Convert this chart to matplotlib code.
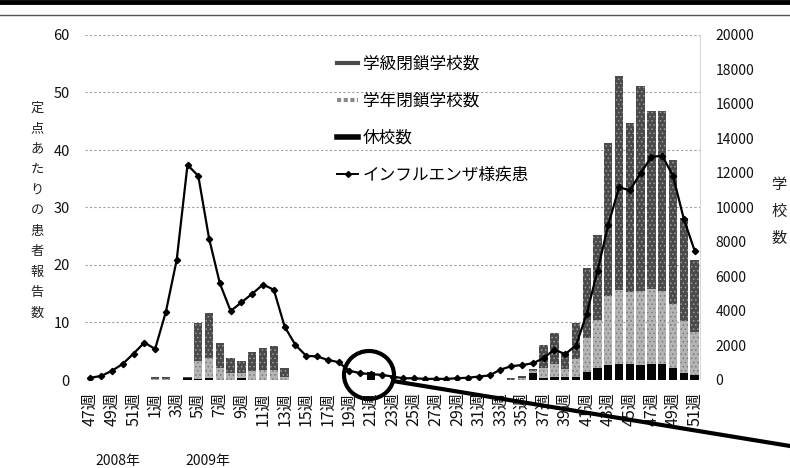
import matplotlib
matplotlib.use('Agg')
import matplotlib.pyplot as plt
from matplotlib.lines import Line2D
from matplotlib.patches import Ellipse

plt.rcParams['font.family'] = ['Noto Sans CJK JP', 'DejaVu Sans']
plt.rcParams['hatch.linewidth'] = 0.6

# ---- data -------------------------------------------------------------
weeks = [47, 48, 49, 50, 51, 52] + list(range(1, 52))   # 2008 wk47 .. 2009 wk51

# インフルエンザ様疾患 (定点あたり報告数, left axis)
flu = [0.4, 0.7, 1.6, 2.8, 4.6, 6.5, 5.4, 11.9, 20.9, 37.4,
       35.5, 24.6, 16.8, 12.0, 13.5, 15.0, 16.6, 15.7, 9.3, 6.1,
       4.2, 4.1, 3.5, 3.1, 1.6, 1.2, 1.0, 0.9, 0.6, 0.3,
       0.3, 0.2, 0.2, 0.2, 0.3, 0.4, 0.6, 0.8, 1.8, 2.4,
       2.6, 2.9, 3.8, 5.3, 4.5, 6.0, 11.5, 19.0, 27.0, 33.5,
       33.0, 36.0, 38.8, 39.0, 35.5, 28.0, 22.5]

# 学級閉鎖学校数 (right axis)
gakkyu = [0, 0, 0, 0, 0, 0, 100, 150, 0, 50,
          2220, 2600, 1430, 900, 700, 1100, 1250, 1350, 500, 0,
          0, 0, 0, 0, 0, 0, 0, 0, 0, 0,
          0, 0, 0, 0, 0, 0, 0, 0, 0, 120,
          150, 150, 1330, 1800, 950, 2090, 4050, 4920, 8880, 12420,
          9810, 11860, 10340, 10440, 8360, 5970, 4170]

# 学年閉鎖学校数
gakunen = [0, 0, 0, 0, 0, 0, 50, 50, 0, 0,
           1000, 1200, 700, 400, 300, 500, 600, 600, 200, 0,
           0, 0, 0, 0, 0, 0, 0, 0, 0, 0,
           0, 0, 0, 0, 0, 0, 0, 0, 0, 0,
           100, 100, 600, 800, 500, 1000, 2000, 2800, 4000, 4300,
           4200, 4300, 4300, 4200, 3700, 3000, 2500]

# 休校数
kyuko = [0, 0, 0, 0, 0, 0, 0, 0, 0, 100,
         80, 100, 0, 0, 100, 0, 0, 0, 0, 0,
         0, 0, 0, 0, 0, 0, 470, 0, 0, 0,
         0, 0, 0, 0, 0, 0, 0, 0, 0, 0,
         0, 400, 100, 150, 150, 200, 450, 700, 870, 900,
         900, 880, 950, 950, 720, 420, 300]

left_ticks = [0, 10, 20, 30, 40, 50, 60]
right_ticks = [0, 2000, 4000, 6000, 8000, 10000, 12000, 14000, 16000, 18000, 20000]
year_labels = ['2008年', '2009年']

# ---- figure -----------------------------------------------------------
W, H = 790, 468
fig = plt.figure(figsize=(W / 100, H / 100), dpi=100)
fig.patch.set_facecolor('white')

ax = fig.add_axes([85 / W, 1 - 380 / H, 615 / W, 345 / H])
ax2 = ax.twinx()
ax.set_zorder(ax2.get_zorder() + 1)
ax.patch.set_visible(False)

x = list(range(len(weeks)))
c_gakkyu = '#4a4a4a'
c_gakunen = '#b4b4b4'
c_kyuko = '#050505'

bottom2 = kyuko
bottom3 = [a + b for a, b in zip(kyuko, gakunen)]
ax2.bar(x, kyuko, width=0.78, color=c_kyuko, linewidth=0, zorder=2)
ax2.bar(x, gakunen, width=0.78, bottom=bottom2, color=c_gakunen,
        edgecolor='#7a7a7a', hatch='....', linewidth=0, zorder=2)
ax2.bar(x, gakkyu, width=0.78, bottom=bottom3, color=c_gakkyu,
        edgecolor='#9a9a9a', hatch='....', linewidth=0, zorder=2)

# grid lines (aligned with left axis ticks)
for v in left_ticks[1:]:
    ax2.axhline(v * 20000 / 60, color='#a0a0a0', lw=0.8, ls=(0, (2, 2)), zorder=1)

ax.plot(x, flu, color='black', lw=1.6, marker='D', markersize=3.2, zorder=5)

ax.set_xlim(-0.5, len(weeks) - 0.5)
ax.set_ylim(0, 60)
ax2.set_ylim(0, 20000)
ax.set_yticks(left_ticks)
ax.set_yticklabels([str(v) for v in left_ticks], fontsize=10.5, color='#111111')
ax2.set_yticks(right_ticks)
ax2.set_yticklabels([str(v) for v in right_ticks], fontsize=10, color='#111111')

xt = x[::2]
ax.set_xticks(xt)
ax.set_xticklabels([f'{weeks[i]}週' for i in xt], rotation=90, fontsize=11.5,
                   color='#111111')
ax.tick_params(axis='x', length=0, pad=9)
ax.tick_params(axis='y', length=0, pad=11)
ax2.tick_params(axis='y', length=0, pad=11)

for a in (ax, ax2):
    for s in a.spines.values():
        s.set_visible(False)
ax2.spines['right'].set_visible(True)
ax2.spines['right'].set_color('#d0d0d0')
ax2.spines['right'].set_linewidth(0.6)

# legend
handles = [
    Line2D([], [], color=c_gakkyu, lw=3),
    Line2D([], [], color='#8a8a8a', lw=3, ls=(0, (1, 0.6))),
    Line2D([], [], color=c_kyuko, lw=4),
    Line2D([], [], color='black', lw=1.4, marker='D', markersize=3),
]
labels = ['学級閉鎖学校数', '学年閉鎖学校数', '休校数', 'インフルエンザ様疾患']
fig.legend(handles, labels, loc='upper left',
           bbox_to_anchor=(330 / W, 1 - 49 / H), frameon=False,
           fontsize=12, labelspacing=1.2, handlelength=1.3,
           handletextpad=0.25, borderaxespad=0)

# axis titles: stacked characters
ylab = '定点あたりの患者報告数'
for k, ch in enumerate(ylab):
    fig.text(37 / W, 1 - (108 + k * 20.5) / H, ch, ha='center', va='center',
             fontsize=9.5, color='#222222')
rlab = '学校数'
for k, ch in enumerate(rlab):
    fig.text(779 / W, 1 - (185 + k * 26.7) / H, ch, ha='center', va='center',
             fontsize=11, color='#222222')

fig.text(95 / W, 1 - 461 / H, year_labels[0], ha='left', va='center',
         fontsize=10, color='#111111')
fig.text(185 / W, 1 - 461 / H, year_labels[1], ha='left', va='center',
         fontsize=10, color='#111111')

# scan-like top border
fig.add_artist(Line2D([0, 1], [1 - 1.5 / H] * 2, transform=fig.transFigure,
                      color='black', lw=3.5))
fig.add_artist(Line2D([0, 1], [1 - 15 / H] * 2, transform=fig.transFigure,
                      color='#555555', lw=1.0))

# highlight circle and callout line
fig.add_artist(Ellipse((369 / W, 1 - 375 / H), 50 / W, 48 / H,
                       transform=fig.transFigure, fill=False,
                       edgecolor='black', lw=3))
fig.add_artist(Line2D([393 / W, 1.0], [1 - 381 / H, 1 - 446 / H],
                      transform=fig.transFigure, color='black', lw=3))

fig.savefig('out.png', dpi=100, facecolor='white')
